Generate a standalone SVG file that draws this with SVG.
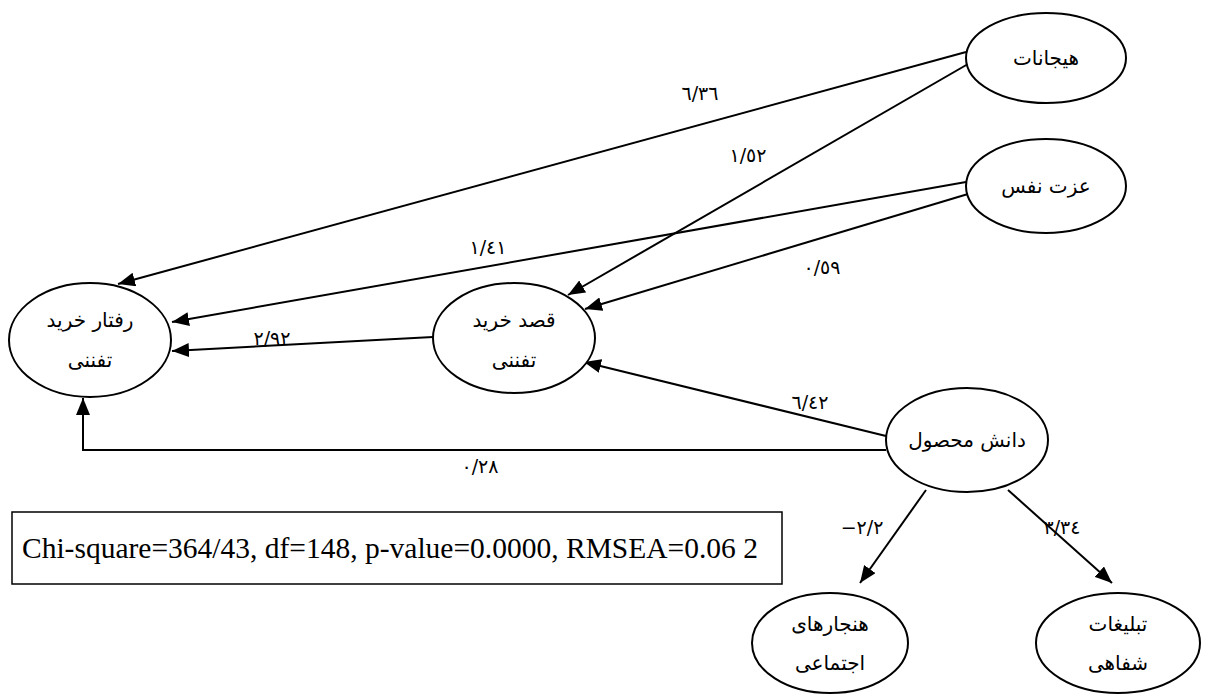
<svg xmlns="http://www.w3.org/2000/svg" width="1208" height="697" viewBox="0 0 1208 697">
<style>
.n ellipse{fill:#fff;stroke:#000;stroke-width:2}
.t{font-family:"DejaVu Sans","Noto Sans",sans-serif;font-size:20px;text-anchor:middle;fill:#000}
.l{font-family:"DejaVu Sans","Noto Sans",sans-serif;font-size:19px;text-anchor:middle;fill:#000}
.c line,.c polyline{stroke:#000;stroke-width:2;fill:none;marker-end:url(#ah)}
.box{fill:#fff;stroke:#000;stroke-width:1.5}
.bt{font-family:"Liberation Serif","Times New Roman",serif;font-size:29.5px;fill:#000}
</style>
<defs>
<marker id="ah" markerUnits="userSpaceOnUse" markerWidth="18" markerHeight="14" refX="17" refY="7" orient="auto">
<path d="M0,0 L17,7 L0,14 z" fill="#000"/>
</marker>
</defs>
<rect width="1208" height="697" fill="#fff"/>
<g class="c" id="connectors">
<line x1="966" y1="52" x2="118" y2="284"/>
<line x1="968" y1="64" x2="568" y2="295"/>
<line x1="966" y1="182" x2="172" y2="322"/>
<line x1="968" y1="194" x2="585" y2="309"/>
<line x1="433" y1="337" x2="172" y2="351"/>
<line x1="886" y1="436" x2="584" y2="362"/>
<polyline points="886,450 83,450 83,398"/>
<line x1="926" y1="490" x2="860" y2="583"/>
<line x1="1008" y1="490" x2="1112" y2="583"/>
</g>
<g id="labels">
<text class="l" x="700" y="100">٦/٣٦</text>
<text class="l" x="748" y="162">١/٥٢</text>
<text class="l" x="488" y="254">١/٤١</text>
<text class="l" x="822" y="274">٠/٥٩</text>
<text class="l" x="272" y="345">٢/٩٢</text>
<text class="l" x="810" y="409">٦/٤٢</text>
<text class="l" x="480" y="473">٠/٢٨</text>
<text class="l" x="862" y="534">−٢/٢</text>
<text class="l" x="1062" y="534">٣/٣٤</text>
</g>
<g class="n" id="n-hayajanat"><ellipse cx="1046" cy="58" rx="80" ry="45"/><text class="t" x="1046" y="65">هیجانات</text></g>
<g class="n" id="n-ezzat"><ellipse cx="1046" cy="186" rx="80" ry="47"/><text class="t" x="1046" y="193">عزت نفس</text></g>
<g class="n" id="n-raftar"><ellipse cx="90" cy="340" rx="81" ry="57"/><text class="t" x="90" y="327">رفتار خرید</text><text class="t" x="90" y="367">تفننی</text></g>
<g class="n" id="n-ghasd"><ellipse cx="514" cy="338" rx="81" ry="55"/><text class="t" x="514" y="327">قصد خرید</text><text class="t" x="514" y="367">تفننی</text></g>
<g class="n" id="n-danesh"><ellipse cx="967" cy="440" rx="81" ry="52"/><text class="t" x="967" y="447">دانش محصول</text></g>
<g class="n" id="n-hanjar"><ellipse cx="830" cy="643" rx="78" ry="50"/><text class="t" x="830" y="631">هنجارهای</text><text class="t" x="830" y="670">اجتماعی</text></g>
<g class="n" id="n-tablighat"><ellipse cx="1118" cy="643" rx="82" ry="50"/><text class="t" x="1118" y="631">تبلیغات</text><text class="t" x="1118" y="670">شفاهی</text></g>
<g id="fit-box"><rect class="box" x="12" y="512" width="770" height="72"/><text class="bt" x="22" y="558">Chi-square=364/43, df=148, p-value=0.0000, RMSEA=0.06 2</text></g>
</svg>
